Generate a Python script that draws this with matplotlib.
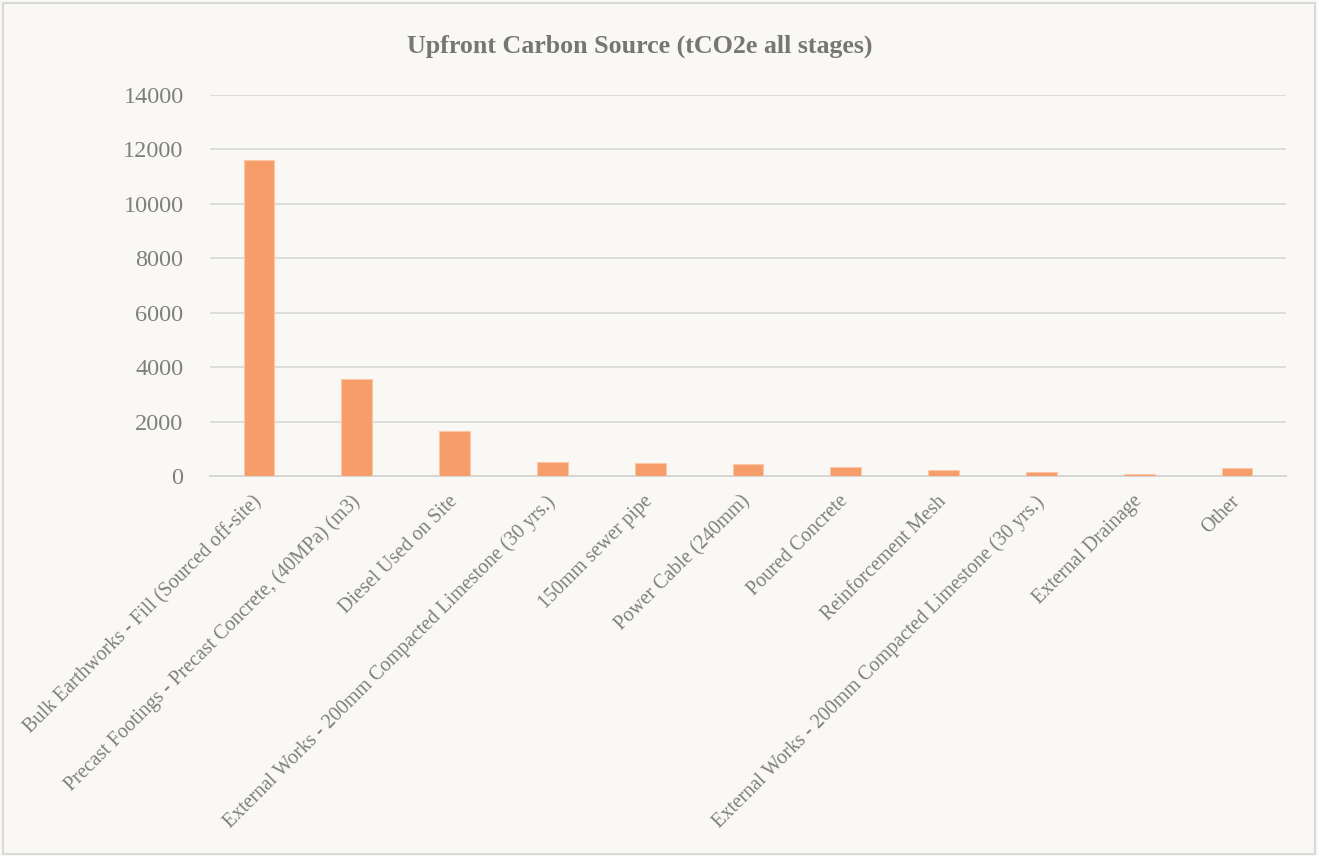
import matplotlib.pyplot as plt
from matplotlib.patches import Rectangle

categories = ['Bulk Earthworks - Fill (Sourced off-site)',
              'Precast Footings - Precast Concrete, (40MPa) (m3)',
              'Diesel Used on Site',
              'External Works - 200mm Compacted Limestone (30 yrs.)',
              '150mm sewer pipe',
              'Power Cable (240mm)',
              'Poured Concrete',
              'Reinforcement Mesh',
              'External Works - 200mm Compacted Limestone (30 yrs.)',
              'External Drainage',
              'Other']
values = [11600, 3550, 1640, 530, 490, 440, 315, 205, 150, 60, 300]
yticks = [0, 2000, 4000, 6000, 8000, 10000, 12000, 14000]

bg = '#F9F8F4'
text_grey = '#7F7F7F'
serif = ['Liberation Serif', 'DejaVu Serif']

fig = plt.figure(figsize=(13.18, 8.56), dpi=100, facecolor=bg)
ax = fig.add_axes([210 / 1318, 1 - 476 / 856, 1076 / 1318, 381 / 856], facecolor=bg)

x = list(range(len(categories)))
ax.bar(x, values, width=0.315, color='#F69D6A', edgecolor='#FBC7A6', linewidth=0.8, zorder=3)

ax.set_ylim(0, 14000)
ax.set_xlim(-0.5, len(categories) - 0.5)
ax.set_yticks(yticks)
ax.set_yticklabels([str(v) for v in yticks], fontsize=17.5, color=text_grey, family=serif)
# ticks are invisible; nudge them left so the slanted labels end right under the bars
ax.set_xticks([i - 0.07 for i in x])
ax.set_xticklabels(categories, rotation=45, ha='right', va='top', rotation_mode='anchor',
                   fontsize=14.4, color=text_grey, family=serif)
ax.tick_params(axis='both', length=0)
ax.tick_params(axis='y', pad=19)
ax.tick_params(axis='x', pad=11.5)

ax.grid(axis='y', color='#DCDCDC', linewidth=1.4, zorder=0)
for s in ['top', 'right', 'left']:
    ax.spines[s].set_visible(False)
ax.spines['bottom'].set_color('#D6D6D6')
ax.spines['bottom'].set_linewidth(1.4)

fig.text(640 / 1318, 1 - 46 / 856, 'Upfront Carbon Source (tCO2e all stages)', ha='center', va='center',
         fontsize=18.7, fontweight='bold', color='#767676', family=serif)

fig.patches.append(Rectangle((0.002, 0.002), 0.996, 0.994, transform=fig.transFigure,
                             fill=False, edgecolor='#D9D9D9', linewidth=1.5))

fig.savefig('out.png', dpi=100, facecolor=bg)
